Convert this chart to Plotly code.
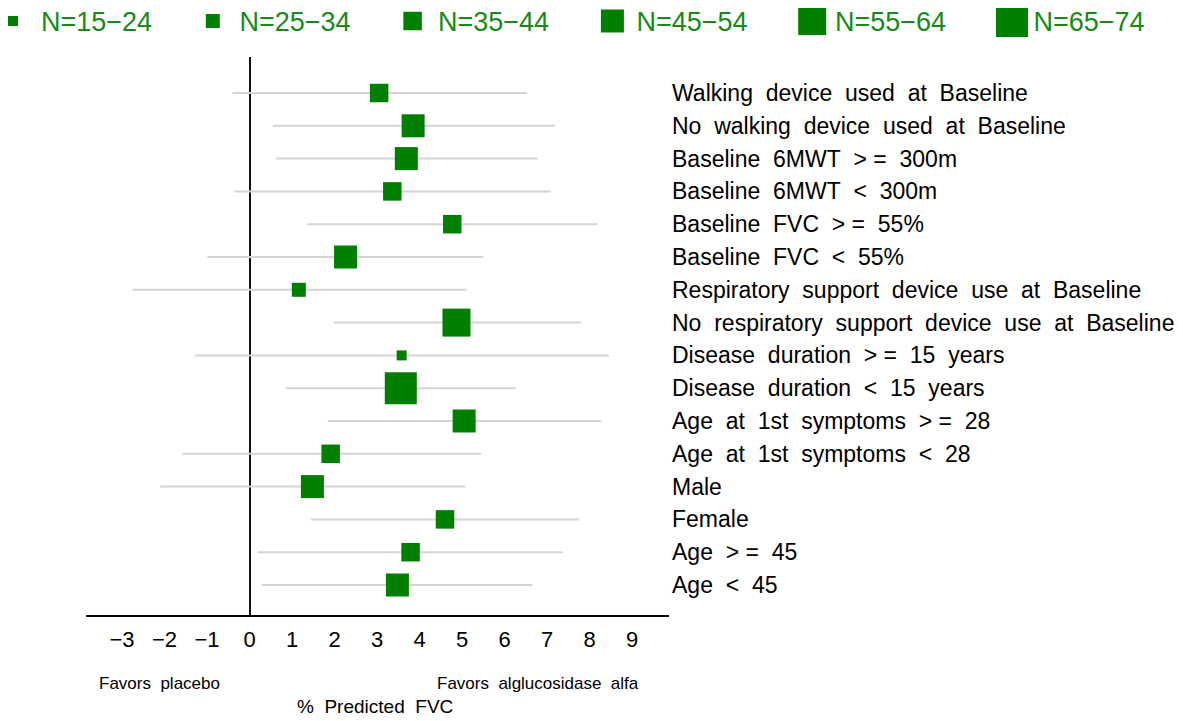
import plotly.graph_objects as go

# ---------------- data ----------------
labels = [
    "Walking device used at Baseline",
    "No walking device used at Baseline",
    "Baseline 6MWT >= 300m",
    "Baseline 6MWT < 300m",
    "Baseline FVC >= 55%",
    "Baseline FVC < 55%",
    "Respiratory support device use at Baseline",
    "No respiratory support device use at Baseline",
    "Disease duration >= 15 years",
    "Disease duration < 15 years",
    "Age at 1st symptoms >= 28",
    "Age at 1st symptoms < 28",
    "Male",
    "Female",
    "Age >= 45",
    "Age < 45",
]
estimates = [3.05, 3.85, 3.69, 3.36, 4.77, 2.26, 1.16, 4.87, 3.58, 3.56, 5.05, 1.91, 1.48, 4.60, 3.79, 3.48]
ci_low = [-0.40, 0.55, 0.62, -0.36, 1.36, -0.99, -2.75, 1.99, -1.28, 0.86, 1.84, -1.58, -2.10, 1.45, 0.19, 0.29]
ci_high = [6.52, 7.19, 6.78, 7.08, 8.19, 5.50, 5.10, 7.80, 8.46, 6.26, 8.28, 5.45, 5.08, 7.76, 7.37, 6.66]
n_group = ["35−44", "45−54", "45−54", "35−44", "35−44", "45−54", "25−34", "55−64",
           "15−24", "65−74", "45−54", "35−44", "45−54", "35−44", "35−44", "45−54"]
group_names = ["15−24", "25−34", "35−44", "45−54", "55−64", "65−74"]
x_ticks = [-3, -2, -1, 0, 1, 2, 3, 4, 5, 6, 7, 8, 9]

# ---------------- style ----------------
FONT = "Liberation Sans, Arial, Helvetica, sans-serif"
GREEN = "#007f00"
TEXT_GREEN = "#178a17"
group_size = {"15−24": 10, "25−34": 14, "35−44": 18.5, "45−54": 23, "55−64": 28, "65−74": 32}
OFF = 8                              # page body margin of the html page
W, H = 1183 - OFF, 721 - OFF
PL, PR, PT, PB = 86 - OFF, 669 - OFF, 57 - OFF, 615 - OFF   # plot area in pixels
ROW0, ROWSTEP = 93 - OFF, 32.8       # first row centre and row spacing (px)
PX_PER_UNIT, ZERO_PX = 42.5, 249.5 - OFF


def disp(s):
    return s.replace(">=", ">\u00a0=").replace(" ", "\u00a0\u00a0").replace(">\u00a0\u00a0=", ">\u00a0=")


rows = list(range(len(labels)))
sizes = [group_size[g] for g in n_group]

fig = go.Figure()
fig.add_trace(go.Scatter(
    x=estimates, y=rows, mode="markers",
    marker=dict(symbol="square", size=sizes, color=GREEN, opacity=1, line=dict(width=0)),
    error_x=dict(type="data", symmetric=False,
                 array=[h - e for h, e in zip(ci_high, estimates)],
                 arrayminus=[e - l for e, l in zip(estimates, ci_low)],
                 color="#d4d4d4", thickness=2, width=0),
    showlegend=False, xaxis="x", yaxis="y",
))

# custom legend row on its own axes (pixel-like coordinates)
leg_x = [13 - OFF + 199.8 * i for i in range(len(group_names))]
txt_x = [41 - OFF + 198.5 * i for i in range(len(group_names))]
LEG_Y = 21 - OFF
TXT_Y = 24 - OFF
fig.add_trace(go.Scatter(
    x=leg_x, y=[LEG_Y] * len(group_names), mode="markers",
    marker=dict(symbol="square", size=[group_size[g] for g in group_names], color=GREEN,
                opacity=1, line=dict(width=0)),
    cliponaxis=False,
    showlegend=False, xaxis="x2", yaxis="y2", hoverinfo="skip",
))
fig.add_trace(go.Scatter(
    x=txt_x, y=[TXT_Y] * len(group_names), mode="text",
    text=["N=" + g for g in group_names], textposition="middle right",
    textfont=dict(family=FONT, size=27, color=TEXT_GREEN),
    cliponaxis=False,
    showlegend=False, xaxis="x2", yaxis="y2", hoverinfo="skip",
))

x_lo = (PL - ZERO_PX) / PX_PER_UNIT
x_hi = (PR - ZERO_PX) / PX_PER_UNIT
y_top = (PT - ROW0) / ROWSTEP
y_bot = (PB - ROW0) / ROWSTEP

fig.update_layout(
    width=W, height=H,
    margin=dict(l=0, r=0, t=0, b=0),
    paper_bgcolor="white", plot_bgcolor="white",
    font=dict(family=FONT, color="black"),
    xaxis=dict(
        domain=[PL / W, PR / W], range=[x_lo, x_hi],
        tickvals=x_ticks, ticks="outside", ticklen=4, tickcolor="rgba(0,0,0,0)",
        tickfont=dict(size=22, color="black"),
        showgrid=False, showline=True, linecolor="black", linewidth=2,
        zeroline=True, zerolinecolor="#111111", zerolinewidth=2,
        anchor="y",
    ),
    yaxis=dict(
        domain=[(H - PB) / H, (H - PT) / H], range=[y_bot, y_top],
        tickvals=rows, ticktext=[disp(s) for s in labels],
        side="right", ticks="", ticklabelstandoff=2,
        tickfont=dict(size=23, color="black"),
        showgrid=False, zeroline=False, showline=False,
        anchor="x",
    ),
    xaxis2=dict(domain=[0, 1], range=[0, W], visible=False, anchor="y2"),
    yaxis2=dict(domain=[(H - 40) / H, 1], range=[40, 0], visible=False, anchor="x2"),
    annotations=[
        dict(text="Favors\u00a0\u00a0placebo", x=(97 - OFF) / W, y=1 - (683 - OFF) / H, xref="paper", yref="paper",
             xanchor="left", yanchor="middle", showarrow=False, font=dict(size=17, color="black")),
        dict(text="Favors\u00a0\u00a0alglucosidase\u00a0\u00a0alfa", x=(641 - OFF) / W, y=1 - (683 - OFF) / H,
             xref="paper", yref="paper", xanchor="right", yanchor="middle", showarrow=False,
             font=dict(size=17, color="black")),
        dict(text="%\u00a0\u00a0Predicted\u00a0\u00a0FVC", x=(375 - OFF) / W, y=1 - (706 - OFF) / H,
             xref="paper", yref="paper",
             xanchor="center", yanchor="middle", showarrow=False, font=dict(size=19, color="black")),
    ],
)

fig.write_html("out.html")
